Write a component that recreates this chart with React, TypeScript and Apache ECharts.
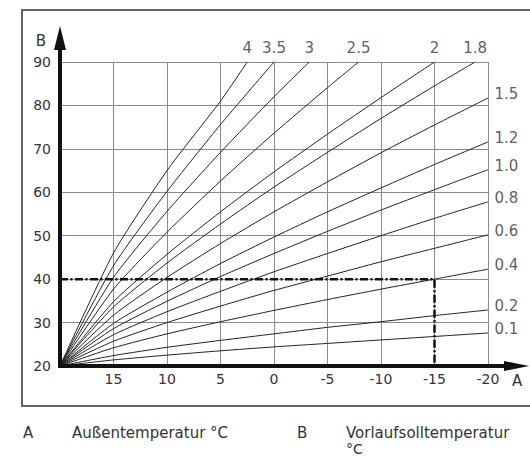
import React, { useEffect, useRef } from "react";
import * as echarts from "echarts";

// Outdoor temperatures (°C) at the vertical grid lines, left to right
const outdoorTemps = [20, 15, 10, 5, 0, -5, -10, -15, -20];

// Steep heating curves that end at the top (flow 90 °C): [outdoor, flow]
const curve4 = [[20, 20], [15, 46], [10, 65], [5, 81], [2.5, 90]];
const curve35 = [[20, 20], [15, 43.1], [10, 60.2], [5, 75.6], [0, 90]];
const curve3 = [[20, 20], [15, 40.4], [10, 55.6], [5, 69.2], [0, 82], [-3.3, 90]];
const curve25 = [[20, 20], [15, 37.7], [10, 50.8], [5, 62.6], [0, 73.6], [-5, 84.1], [-7.9, 90]];
const curve2 = [[20, 20], [15, 34.8], [10, 45.7], [5, 55.5], [0, 64.7], [-5, 73.4], [-10, 81.8], [-15, 90]];
const curve18 = [[20, 20], [15, 33.6], [10, 43.7], [5, 52.7], [0, 61.2], [-5, 69.2], [-10, 77], [-15, 84.5], [-18.8, 90]];

// Flatter curves that reach -20 °C: flow values at outdoorTemps
const curve15 = [20, 31.7, 40.4, 48.2, 55.5, 62.4, 69.1, 75.5, 81.7];
const curve12 = [20, 29.8, 37.0, 43.6, 49.7, 55.5, 61.0, 66.4, 71.6];
const curve10 = [20, 28.6, 34.9, 40.6, 45.9, 51.0, 55.9, 60.6, 65.2];
const curve08 = [20, 27.2, 32.5, 37.2, 41.7, 45.9, 50.0, 54.0, 57.8];
const curve06 = [20, 25.7, 30.0, 33.8, 37.4, 40.7, 44.0, 47.1, 50.2];
const curve04 = [20, 24.2, 27.4, 30.2, 32.8, 35.3, 37.7, 40.0, 42.3];
const curve02 = [20, 22.4, 24.3, 25.9, 27.4, 28.9, 30.2, 31.6, 32.9];
const curve01 = [20, 21.4, 22.5, 23.5, 24.4, 25.2, 26.0, 26.8, 27.6];

const steepNames = ["4", "3.5", "3", "2.5", "2", "1.8"];
const steepCurves = [curve4, curve35, curve3, curve25, curve2, curve18];
const flatNames = ["1.5", "1.2", "1.0", "0.8", "0.6", "0.4", "0.2", "0.1"];
const flatCurves = [curve15, curve12, curve10, curve08, curve06, curve04, curve02, curve01];

// Example reading: outdoor -15 °C -> flow 40 °C
const exampleLine = [[20, 40], [-15, 40], [-15, 20]];

const FONT = "DejaVu Sans";
const TEXT = "#333";
const GRID = { left: 60, top: 62, right: 42, bottom: 91 };
const W = 530;
const H = 457;

export default function App() {
  const ref = useRef<HTMLDivElement>(null);
  useEffect(() => {
    if (!ref.current) return;
    const chart = echarts.init(ref.current, undefined, { renderer: "svg" });
    const ox = GRID.left;
    const oy = H - GRID.bottom;

    const flatPts = flatCurves.map((vals) => vals.map((v, j) => [outdoorTemps[j], v]));

    const curveSeries: any[] = [...steepCurves, ...flatPts].map((pts, i) => ({
      type: "line",
      data: pts,
      showSymbol: false,
      symbol: "none",
      smooth: 0.2,
      lineStyle: { color: "#222", width: 1 },
      z: 3,
    }));

    const labelFont = { fontFamily: FONT, fontSize: 15, color: TEXT };

    const topLabels = {
      type: "scatter",
      symbol: "circle",
      symbolSize: 1,
      itemStyle: { color: "rgba(0,0,0,0)" },
      silent: true,
      z: 5,
      data: steepCurves.map((pts, i) => ({
        name: steepNames[i],
        value: pts[pts.length - 1],
      })),
      label: {
        show: true,
        position: "top",
        distance: 6,
        formatter: (p: any) => p.name,
        ...labelFont,
      },
    };

    const rightLabels = {
      type: "scatter",
      symbol: "circle",
      symbolSize: 1,
      itemStyle: { color: "rgba(0,0,0,0)" },
      silent: true,
      z: 5,
      data: flatPts.map((pts, i) => ({
        name: flatNames[i],
        value: pts[pts.length - 1],
      })),
      label: {
        show: true,
        position: "right",
        distance: 6,
        offset: [0, -4],
        formatter: (p: any) => p.name,
        ...labelFont,
      },
    };

    const option: any = {
      animation: false,
      backgroundColor: "#fff",
      grid: { ...GRID, containLabel: false },
      xAxis: {
        type: "value",
        min: -20,
        max: 20,
        interval: 5,
        inverse: true,
        axisLine: { show: false },
        axisTick: { show: false },
        axisLabel: {
          margin: 6,
          fontFamily: FONT,
          fontSize: 14,
          color: TEXT,
          formatter: (v: number) => (v === 20 ? "" : String(v)),
        },
        splitLine: { show: true, lineStyle: { color: "#8a8a8a", width: 1 } },
      },
      yAxis: {
        type: "value",
        min: 20,
        max: 90,
        interval: 10,
        axisLine: { show: false },
        axisTick: { show: false },
        axisLabel: { margin: 9, fontFamily: FONT, fontSize: 14, color: TEXT },
        splitLine: { show: true, lineStyle: { color: "#8a8a8a", width: 1 } },
      },
      series: [
        ...curveSeries,
        {
          type: "line",
          data: exampleLine,
          showSymbol: false,
          symbol: "none",
          lineStyle: { color: "#111", width: 2.5, type: [8, 2.5, 2, 2.5] },
          z: 4,
        },
        topLabels,
        rightLabels,
      ],
      graphic: [
        {
          type: "rect",
          shape: { x: 22, y: 10, width: 540, height: 396 },
          style: { fill: "none", stroke: "#333", lineWidth: 1.5 },
          silent: true,
        },
        {
          type: "line",
          shape: { x1: ox - 2, y1: oy, x2: 510, y2: oy },
          style: { stroke: "#111", lineWidth: 4 },
          z: 10,
        },
        {
          type: "polygon",
          shape: { points: [[504, oy - 5], [529, oy], [504, oy + 5]] },
          style: { fill: "#111" },
          z: 10,
        },
        {
          type: "line",
          shape: { x1: ox, y1: oy + 2, x2: ox, y2: 45 },
          style: { stroke: "#111", lineWidth: 4 },
          z: 10,
        },
        {
          type: "polygon",
          shape: { points: [[ox - 6, 50], [ox, 26], [ox + 6, 50]] },
          style: { fill: "#111" },
          z: 10,
        },
        {
          type: "text",
          x: 517,
          y: 381,
          style: { text: "A", font: `15px '${FONT}'`, fill: TEXT, align: "center", verticalAlign: "middle" },
          z: 10,
        },
        {
          type: "text",
          x: 41,
          y: 41,
          style: { text: "B", font: `15px '${FONT}'`, fill: TEXT, align: "center", verticalAlign: "middle" },
          z: 10,
        },
        {
          type: "text",
          x: 23,
          y: 433,
          style: { text: "A", font: `15px '${FONT}'`, fill: TEXT, align: "left", verticalAlign: "middle" },
        },
        {
          type: "text",
          x: 72,
          y: 433,
          style: { text: "Außentemperatur °C", font: `15px '${FONT}'`, fill: TEXT, align: "left", verticalAlign: "middle" },
        },
        {
          type: "text",
          x: 297,
          y: 433,
          style: { text: "B", font: `15px '${FONT}'`, fill: TEXT, align: "left", verticalAlign: "middle" },
        },
        {
          type: "text",
          x: 346,
          y: 433,
          style: { text: "Vorlaufsolltemperatur", font: `15px '${FONT}'`, fill: TEXT, align: "left", verticalAlign: "middle" },
        },
        {
          type: "text",
          x: 346,
          y: 449,
          style: { text: "°C", font: `14px '${FONT}'`, fill: TEXT, align: "left", verticalAlign: "middle" },
        },
      ],
    };
    chart.setOption(option);
    return () => chart.dispose();
  }, []);

  return (
    <div
      ref={ref}
      style={{ position: "fixed", left: 0, top: 0, width: W, height: H, background: "#fff" }}
    />
  );
}
